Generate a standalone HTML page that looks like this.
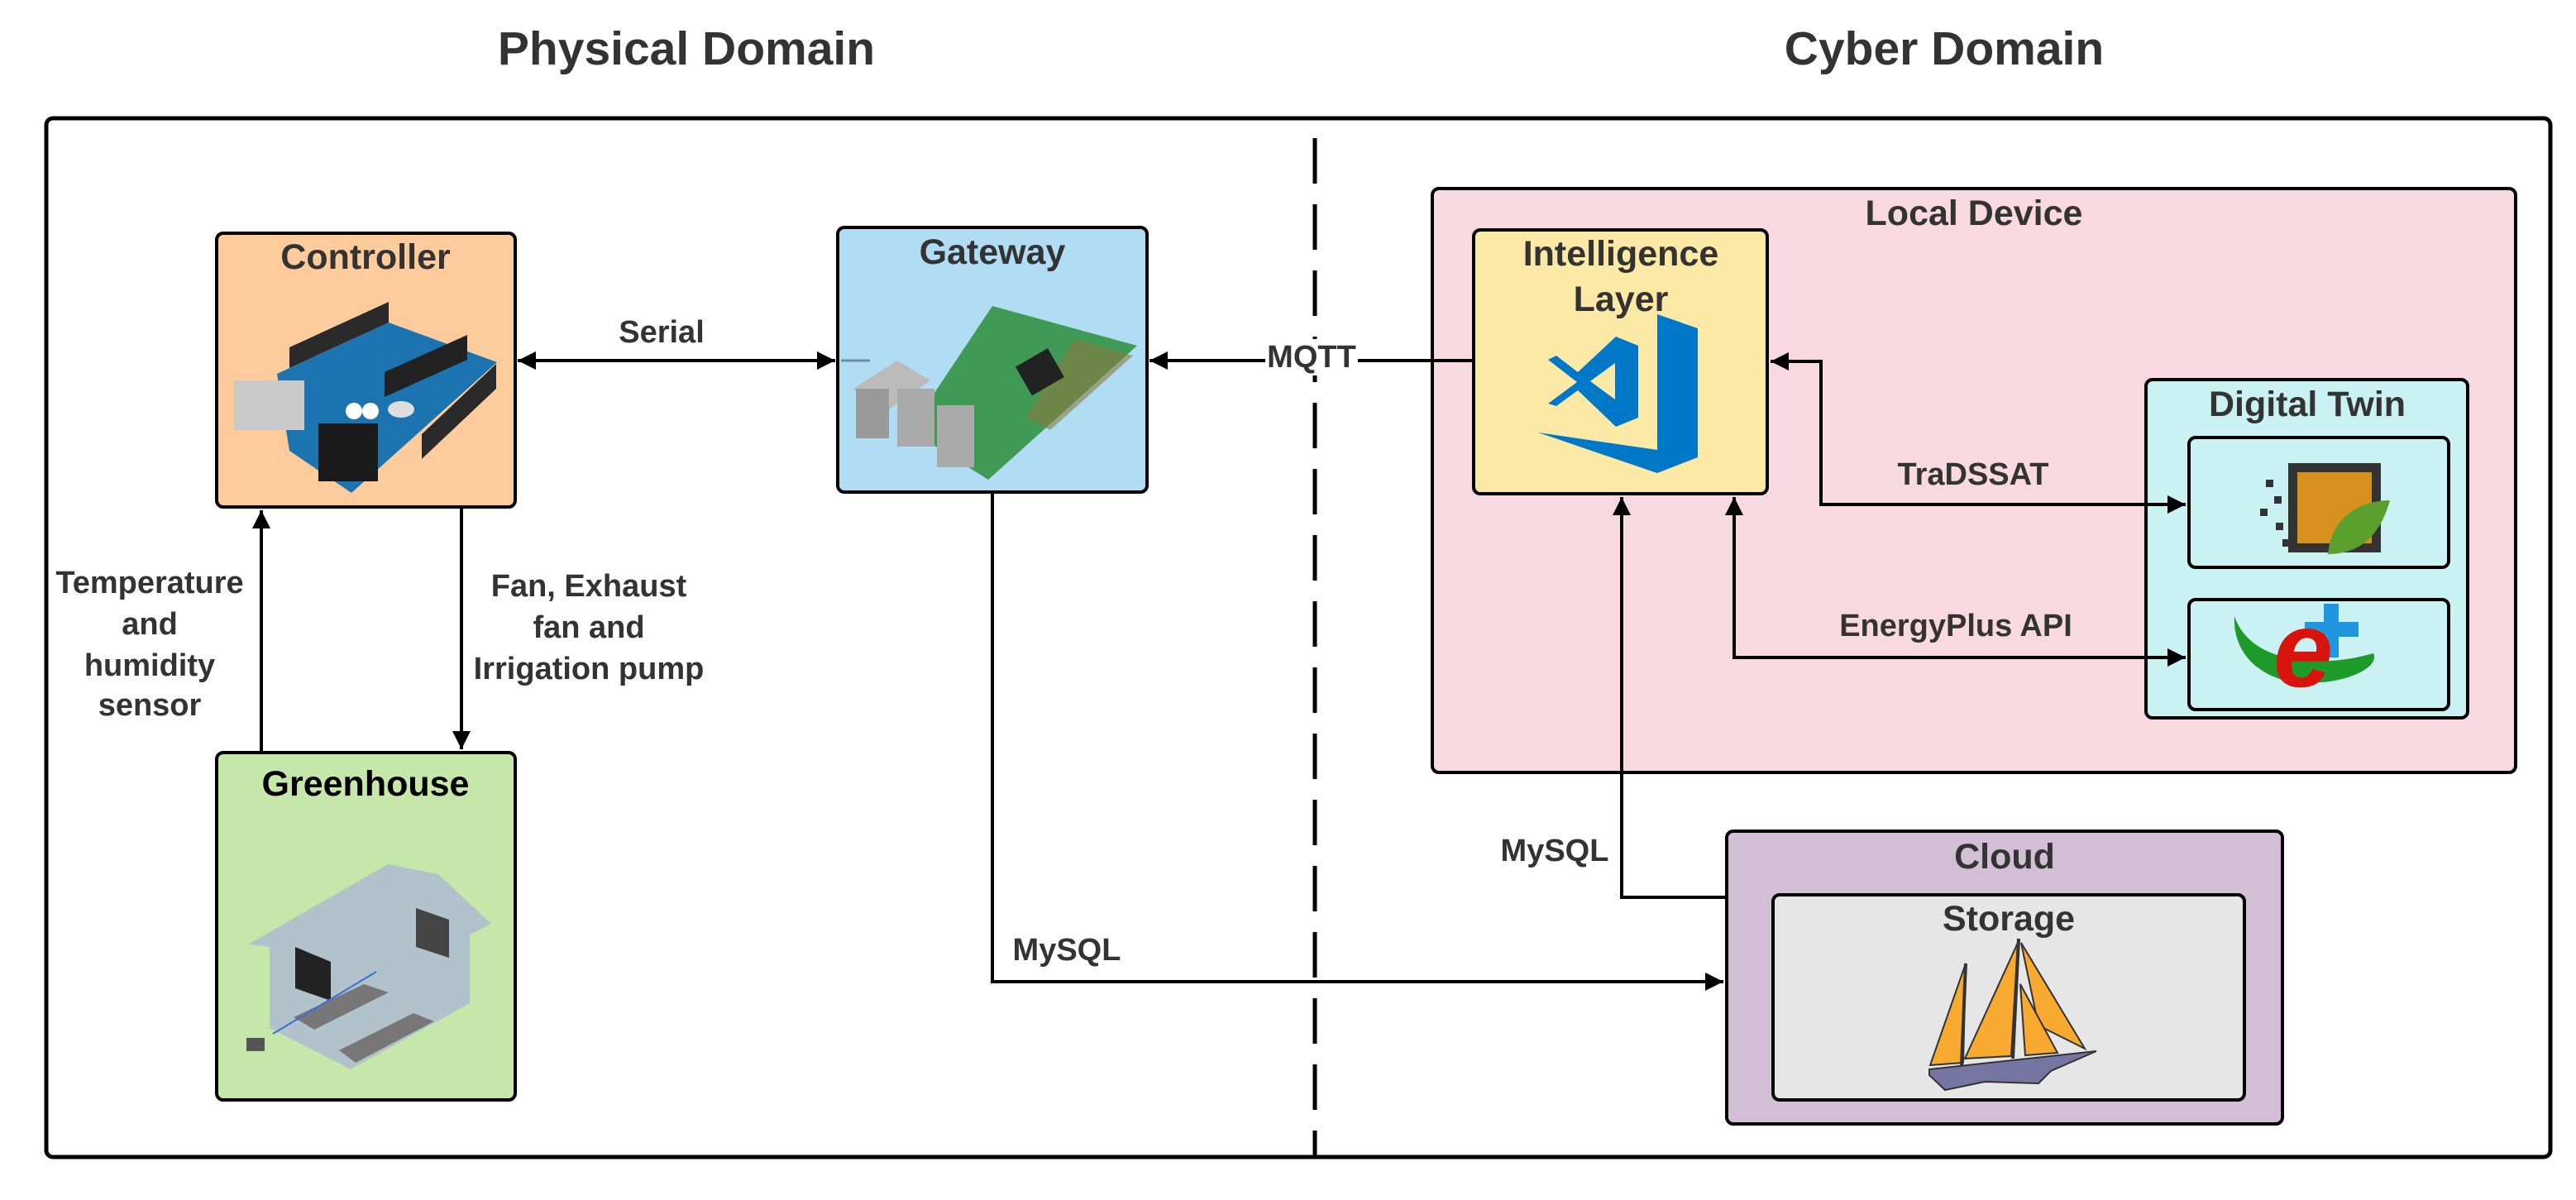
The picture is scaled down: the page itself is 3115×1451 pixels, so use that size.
<!DOCTYPE html>
<html><head><meta charset="utf-8"><style>
html,body{margin:0;padding:0;background:#fff}
svg{display:block}
text{font-family:"Liberation Sans",sans-serif;font-weight:bold;fill:#333}
</style></head><body>
<svg width="3115" height="1451" viewBox="0 0 3115 1451" xmlns="http://www.w3.org/2000/svg">
<defs>
<marker id="a" viewBox="0 0 10 10" refX="10" refY="5" markerWidth="28" markerHeight="22" markerUnits="userSpaceOnUse" orient="auto-start-reverse"><path d="M0,0L10,5L0,10Z" fill="#000"/></marker>
</defs>
<text x="830" y="78" font-size="57" text-anchor="middle">Physical Domain</text>
<text x="2351" y="78" font-size="57" text-anchor="middle">Cyber Domain</text>
<rect x="56" y="143" width="3028" height="1256" rx="8" fill="none" stroke="#000" stroke-width="5"/>
<line x1="1590" y1="167" x2="1590" y2="1399" stroke="#000" stroke-width="5" stroke-dasharray="55,25"/>

<!-- Controller -->
<rect x="262" y="282" width="361" height="331" rx="8" fill="#fecb9c" stroke="#000" stroke-width="4"/>
<text x="442" y="325" font-size="43" text-anchor="middle">Controller</text>
<polygon points="335,452 470,390 601,438 425,596 350,545" fill="#1b74b0"/>
<polygon points="350,420 470,365 470,390 350,445" fill="#2a2a2a"/>
<polygon points="465,450 565,405 565,435 465,480" fill="#222"/>
<polygon points="510,525 600,440 600,470 510,555" fill="#2a2a2a"/>
<rect x="283" y="460" width="85" height="60" fill="#c9c9c9"/>
<rect x="385" y="512" width="72" height="70" fill="#1a1a1a"/>
<circle cx="428" cy="497" r="10" fill="#fff"/><circle cx="448" cy="497" r="10" fill="#fff"/>
<ellipse cx="485" cy="495" rx="16" ry="10" fill="#ddd"/>

<!-- Gateway -->
<rect x="1013" y="275" width="374" height="320" rx="8" fill="#b0dcf4" stroke="#000" stroke-width="4"/>
<text x="1200" y="319" font-size="43" text-anchor="middle">Gateway</text>
<polygon points="1200,370 1375,418 1195,580 1100,520" fill="#3f9a55"/>
<polygon points="1300,410 1370,430 1270,520 1240,505" fill="#8a7a40" opacity="0.6"/>
<rect x="1235" y="430" width="45" height="40" fill="#222" transform="rotate(-30 1257 450)"/>
<polygon points="1032,470 1085,436 1125,460 1075,495" fill="#bbb"/>
<rect x="1035" y="470" width="40" height="60" fill="#999"/>
<rect x="1085" y="470" width="45" height="70" fill="#aaa"/>
<rect x="1133" y="490" width="45" height="75" fill="#aaa"/>
<line x1="1017" y1="436" x2="1052" y2="436" stroke="#6a8ea8" stroke-width="3"/>

<!-- Greenhouse -->
<rect x="262" y="910" width="361" height="420" rx="8" fill="#c6e7aa" stroke="#000" stroke-width="4"/>
<text x="442" y="962" font-size="43" text-anchor="middle" style="fill:#000">Greenhouse</text>
<polygon points="300,1142 469,1045 530,1057 594,1117 568,1130 568,1213 424,1293 326,1243 326,1145" fill="#a9b5d6" opacity="0.75"/>
<polygon points="357,1145 400,1163 400,1210 357,1195" fill="#222"/>
<polygon points="503,1098 543,1112 543,1158 503,1145" fill="#444"/>
<polygon points="355,1230 440,1190 470,1200 380,1245" fill="#777"/>
<polygon points="410,1270 500,1225 525,1235 430,1285" fill="#777"/>
<line x1="330" y1="1250" x2="455" y2="1175" stroke="#3a6ed8" stroke-width="2"/>
<rect x="298" y="1255" width="22" height="16" fill="#555"/>

<!-- Local device -->
<rect x="1732" y="228" width="1310" height="706" rx="8" fill="#f8d9e1" stroke="#000" stroke-width="4"/>
<text x="2387" y="272" font-size="43" text-anchor="middle">Local Device</text>
<rect x="1782" y="278" width="355" height="319" rx="8" fill="#fde9a6" stroke="#000" stroke-width="4"/>
<text x="1960" y="321" font-size="43" text-anchor="middle">Intelligence</text>
<text x="1960" y="376" font-size="43" text-anchor="middle">Layer</text>
<path d="M2004,380 L2053,397 L2053,553 L2004,572 L1860,523 L2004,544 Z" fill="#0078c8"/>
<path fill-rule="evenodd" d="M1954,407 L1981,418 L1981,505 L1954,516 L1908,472 L1882,491 L1872,488 L1907,462 L1872,435 L1882,430 L1908,450 Z M1953,439 L1953,483 L1923,461 Z" fill="#0078c8"/>

<!-- Digital Twin -->
<rect x="2595" y="459" width="389" height="409" rx="8" fill="#cbf2f2" stroke="#000" stroke-width="4"/>
<text x="2790" y="503" font-size="43" text-anchor="middle">Digital Twin</text>
<rect x="2647" y="529" width="314" height="157" rx="8" fill="#cbf2f2" stroke="#000" stroke-width="4"/>
<rect x="2767" y="560" width="112" height="108" fill="#333"/>
<rect x="2778" y="571" width="90" height="86" fill="#d8901e"/>
<path d="M2815,670 C2820,620 2860,605 2890,605 C2880,640 2860,670 2815,670 Z" fill="#5aa02c"/>
<rect x="2740" y="580" width="9" height="9" fill="#333"/><rect x="2750" y="600" width="9" height="9" fill="#333"/><rect x="2733" y="615" width="9" height="9" fill="#333"/><rect x="2752" y="632" width="9" height="9" fill="#333"/><rect x="2760" y="652" width="9" height="9" fill="#333"/>
<rect x="2647" y="725" width="314" height="133" rx="8" fill="#cbf2f2" stroke="#000" stroke-width="4"/>
<path d="M2702,745 C2720,800 2800,810 2870,790 C2880,810 2820,835 2760,822 C2720,810 2700,780 2702,745 Z" fill="#1e9a2a"/>
<rect x="2810" y="730" width="18" height="65" fill="#2196e0"/><rect x="2787" y="752" width="65" height="18" fill="#2196e0"/>
<text x="2785" y="830" font-size="130" text-anchor="middle" style="fill:#d8140c;font-style:italic">e</text>

<!-- Cloud -->
<rect x="2088" y="1005" width="672" height="354" rx="8" fill="#d3bfd5" stroke="#000" stroke-width="4"/>
<text x="2424" y="1050" font-size="43" text-anchor="middle">Cloud</text>
<rect x="2144" y="1082" width="570" height="248" rx="8" fill="#e6e6e6" stroke="#000" stroke-width="4"/>
<text x="2429" y="1125" font-size="43" text-anchor="middle">Storage</text>
<polygon points="2377,1165 2334,1288 2374,1285" fill="#f8aa30" stroke="#333" stroke-width="2"/>
<polygon points="2440,1140 2376,1280 2432,1277" fill="#f8aa30" stroke="#333" stroke-width="2"/>
<polygon points="2444,1140 2521,1268 2465,1240" fill="#f8aa30" stroke="#333" stroke-width="2"/>
<polygon points="2443,1190 2488,1273 2449,1276" fill="#f8aa30" stroke="#333" stroke-width="2"/>
<line x1="2377" y1="1165" x2="2372" y2="1288" stroke="#333" stroke-width="4"/>
<line x1="2441" y1="1135" x2="2434" y2="1280" stroke="#333" stroke-width="4"/>
<polygon points="2333,1293 2535,1271 2480,1295 2465,1310 2400,1308 2352,1318 2333,1300" fill="#7676a4" stroke="#333" stroke-width="2"/>

<!-- connectors -->
<g stroke="#000" stroke-width="4" fill="none">
<line x1="626" y1="436" x2="1010" y2="436" marker-start="url(#a)" marker-end="url(#a)"/>
<line x1="1782" y1="436" x2="1390" y2="436" marker-end="url(#a)"/>
<line x1="558" y1="613" x2="558" y2="906" marker-end="url(#a)"/>
<line x1="316" y1="910" x2="316" y2="617" marker-end="url(#a)"/>
<path d="M1200,595 L1200,1187 L2084,1187" marker-end="url(#a)"/>
<path d="M2088,1085 L1961,1085 L1961,601" marker-end="url(#a)"/>
<path d="M2643,610 L2202,610 L2202,437 L2141,437" marker-start="url(#a)" marker-end="url(#a)"/>
<path d="M2643,795 L2097,795 L2097,601" marker-start="url(#a)" marker-end="url(#a)"/>
</g>
<rect x="1530" y="410" width="112" height="44" fill="#fff"/>
<text x="1586" y="444" font-size="38" text-anchor="middle">MQTT</text>
<text x="800" y="414" font-size="38" text-anchor="middle">Serial</text>
<g font-size="38" text-anchor="middle">
<text x="181" y="717">Temperature</text><text x="181" y="767">and</text><text x="181" y="817">humidity</text><text x="181" y="865">sensor</text>
<text x="712" y="721">Fan, Exhaust</text><text x="712" y="771">fan and</text><text x="712" y="821">Irrigation pump</text>
</g>
<text x="1290" y="1161" font-size="38" text-anchor="middle">MySQL</text>
<text x="1880" y="1041" font-size="38" text-anchor="middle">MySQL</text>
<text x="2386" y="586" font-size="38" text-anchor="middle">TraDSSAT</text>
<text x="2365" y="769" font-size="38" text-anchor="middle">EnergyPlus API</text>
</svg>
</body></html>
